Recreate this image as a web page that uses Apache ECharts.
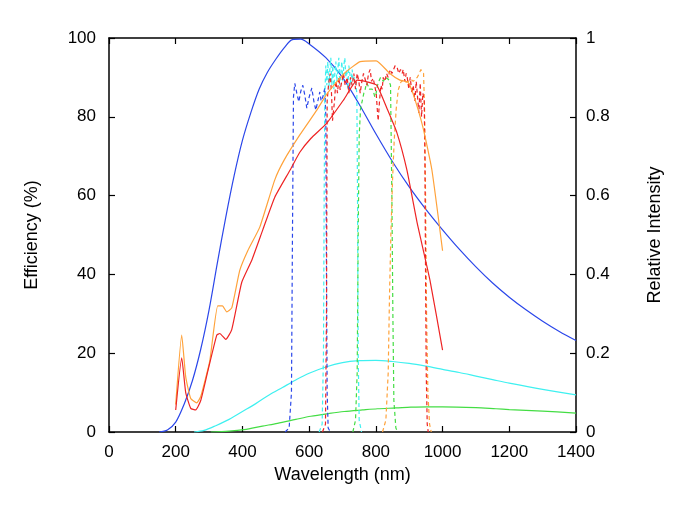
<!DOCTYPE html>
<html>
<head>
<meta charset="utf-8">
<script src="https://cdn.jsdelivr.net/npm/echarts@6/dist/echarts.min.js"></script>
<style>
  html, body { margin: 0; padding: 0; background: #fff; }
  #chart { width: 698px; height: 514px; }
</style>
</head>
<body>
<div id="chart"></div>
<script>
// Relative intensity curves (right axis), [nm, value]
const intensityBlue = [
  [150, 0], [175, 0.005], [200, 0.025], [225, 0.07], [250, 0.13], [275, 0.21], [300, 0.31],
  [325, 0.43], [350, 0.545], [375, 0.65], [400, 0.74], [425, 0.81], [450, 0.87], [475, 0.913],
  [500, 0.946], [525, 0.975], [550, 0.996], [575, 0.997], [600, 0.985], [650, 0.95],
  [700, 0.9], [750, 0.832], [800, 0.757], [850, 0.686], [900, 0.622], [950, 0.565],
  [1000, 0.513], [1050, 0.464], [1100, 0.419], [1150, 0.378], [1200, 0.342], [1250, 0.31],
  [1300, 0.281], [1350, 0.255], [1400, 0.232]
]
const intensityCyan = [
  [255, 0], [285, 0.004], [320, 0.016], [360, 0.032], [400, 0.052], [440, 0.072], [480, 0.094],
  [520, 0.113], [560, 0.132], [600, 0.149], [650, 0.165], [700, 0.176], [750, 0.181],
  [800, 0.182], [850, 0.179], [900, 0.174], [950, 0.167], [1000, 0.159], [1050, 0.151],
  [1100, 0.142], [1150, 0.133], [1200, 0.124], [1300, 0.108], [1400, 0.094]
]
const intensityGreen = [
  [305, 0], [360, 0.002], [405, 0.006], [460, 0.015], [505, 0.022], [560, 0.032], [605, 0.04],
  [660, 0.047], [705, 0.052], [760, 0.056], [805, 0.059], [860, 0.061], [905, 0.063],
  [955, 0.064], [1000, 0.064], [1100, 0.062], [1160, 0.059], [1200, 0.057], [1300, 0.053],
  [1400, 0.048]
]

// Detector efficiency curves (left axis, %)
const effOrange = [
  [200, 7], [218, 24.6], [230, 14], [245, 8.5], [263, 7.4], [275, 9], [302, 18], [326, 32],
  [340, 32], [353, 30.5], [368, 31.5], [392, 41], [416, 46], [452, 52], [497, 64], [525, 69],
  [572, 75.4], [623, 81.7], [655, 86], [705, 91], [753, 94], [801, 94.2], [842, 91],
  [872, 89.3], [896, 88.8], [911, 86], [941, 77.4], [968, 66.5], [1000, 46]
]
const effRed = [
  [200, 5.6], [218, 18.8], [230, 10], [245, 6], [260, 5.6], [275, 8], [295, 15], [323, 24.6],
  [332, 25], [350, 23.5], [368, 26], [398, 38], [428, 43.6], [461, 51.3], [497, 59.6],
  [543, 66.5], [572, 71], [605, 74.5], [653, 78.4], [705, 84.5], [744, 89.3], [776, 88.8],
  [803, 88], [834, 82], [863, 76], [893, 66.5], [924, 53], [962, 38.6], [1000, 20.8]
]

// Filter transmission curves (left axis, %)
const filterBlue = [
  [528, 0], [540, 1], [547, 10], [550, 50], [553, 85], [557, 88.5], [563, 86], [569, 83.8],
  [575, 86.5], [581, 88], [587, 85.5], [593, 82.2], [600, 85], [608, 87.3], [614, 84],
  [620, 81.7], [626, 84], [632, 86.3], [636, 84], [641, 85], [647, 87.3], [650, 80],
  [652, 40], [654, 10], [657, 1], [664, 0]
]
const filterCyan = [
  [630, 0], [639, 2], [643, 20], [645, 60], [647, 85], [650, 93], [653, 88], [656, 94],
  [659, 87], [662, 92], [665, 95], [668, 88], [671, 93], [674, 87], [677, 91], [680, 94],
  [683, 89], [686, 92], [689, 95], [692, 88], [695, 91], [698, 94], [701, 89], [704, 93],
  [707, 95], [710, 90], [713, 92], [716, 87], [719, 93], [722, 91], [725, 88], [729, 92],
  [732, 89], [736, 90], [740, 88], [743, 86], [745, 60], [747, 20], [750, 3], [757, 0]
]
const filterRed = [
  [640, 0], [649, 2], [652, 30], [654, 84], [658, 88], [663, 91], [667, 86], [670, 79],
  [673, 78.7], [676, 84], [680, 89], [685, 86], [689, 90], [693, 86.8], [698, 89], [703, 91],
  [708, 88], [714, 90], [719, 86], [724, 90], [729, 88], [734, 91], [739, 87], [744, 91],
  [749, 89], [753, 86], [758, 89], [763, 91], [768, 90.6], [773, 88], [778, 91], [783, 92],
  [787, 89], [792, 89.8], [797, 90], [801, 86], [805, 81], [807, 79], [811, 84], [815, 88],
  [819, 87], [822, 90], [827, 89], [832, 91], [837, 90], [843, 92], [848, 91], [853, 92],
  [858, 93], [864, 92.4], [869, 91], [874, 92], [879, 91], [882, 92], [887, 89], [891, 91],
  [894, 90], [899, 87], [903, 90], [908, 86], [912, 88], [917, 84], [921, 89], [924, 86],
  [929, 81], [933, 88.6], [937, 80], [941, 86], [945, 84], [947, 70], [949, 40], [951, 15],
  [954, 2], [957, 0]
]
const filterGreen = [
  [731, 0], [739, 3], [744, 15], [747, 50], [750, 75], [754, 82], [759, 84], [764, 86],
  [768, 87], [772, 88.6], [776, 88], [780, 87], [784, 86.5], [789, 87], [794, 86], [797, 85],
  [801, 86], [805, 88], [809, 89], [814, 90], [818, 90], [823, 89], [828, 90], [833, 90],
  [838, 89.5], [844, 88], [848, 60], [851, 30], [854, 8], [860, 1], [866, 0]
]
const filterOrange = [
  [820, 0], [830, 3], [837, 15], [841, 35], [845, 50], [850, 64], [855, 74], [861, 82],
  [867, 86.8], [875, 88.8], [882, 89.3], [890, 88.8], [898, 89], [905, 89.5], [912, 89],
  [918, 89.5], [924, 90], [930, 91], [935, 92], [940, 92], [943, 91], [946, 82], [949, 60],
  [952, 30], [956, 10], [961, 2], [966, 0]
]

const xRange = { min: 0, max: 1400, interval: 200 }
const leftRange = { min: 0, max: 100, interval: 20 }
const rightRange = { min: 0, max: 1, interval: 0.2 }

const FONT = "Liberation Sans"
const BLUE = "#2b47ea"
const CYAN = "#3ff0f0"
const GREEN = "#44dd44"
const RED = "#ee2424"
const ORANGE = "#ffa23a"

const axisLine = { show: true, onZero: false, lineStyle: { color: "#000", width: 1.5 } }
const tick = { show: true, inside: true, length: 6, lineStyle: { color: "#000", width: 1.2 } }
const label = { color: "#000", fontSize: 17, fontFamily: FONT, formatter: (v) => String(v) }
const nameStyle = { color: "#000", fontSize: 18, fontFamily: FONT }

function line(data, color, yIdx, dashed, smooth) {
  return {
    type: "line",
    data: data,
    yAxisIndex: yIdx,
    showSymbol: false,
    smooth: smooth || false,
    silent: true,
    lineStyle: { color: color, width: 1.2, type: dashed ? [4, 3] : "solid" },
  }
}

const chart = echarts.init(document.getElementById("chart"))
chart.setOption({
  animation: false,
  backgroundColor: "#fff",
  grid: { left: 109, right: 122, top: 38, bottom: 82 },
  xAxis: [
    {
      type: "value", position: "bottom", ...xRange,
      name: "Wavelength (nm)", nameLocation: "middle", nameGap: 34, nameTextStyle: nameStyle,
      axisLine: axisLine, axisTick: tick,
      axisLabel: { ...label, margin: 12 },
      splitLine: { show: false },
    },
    {
      type: "value", position: "top", ...xRange,
      axisLine: axisLine, axisTick: tick,
      axisLabel: { show: false },
      splitLine: { show: false },
    },
  ],
  yAxis: [
    {
      type: "value", position: "left", ...leftRange,
      name: "Efficiency (%)", nameLocation: "middle", nameGap: 68, nameTextStyle: nameStyle,
      axisLine: axisLine, axisTick: tick,
      axisLabel: { ...label, margin: 13 },
      splitLine: { show: false },
    },
    {
      type: "value", position: "right", ...rightRange,
      name: "Relative Intensity", nameLocation: "middle", nameGap: 70, nameTextStyle: nameStyle,
      axisLine: axisLine, axisTick: tick,
      axisLabel: { ...label, margin: 10 },
      splitLine: { show: false },
    },
  ],
  series: [
    line(intensityBlue, BLUE, 1, false, 0.3),
    line(intensityCyan, CYAN, 1, false, 0.3),
    line(intensityGreen, GREEN, 1, false, 0.3),
    line(filterBlue, BLUE, 0, true),
    line(filterCyan, CYAN, 0, true),
    line(filterGreen, GREEN, 0, true),
    line(filterOrange, ORANGE, 0, true),
    line(filterRed, RED, 0, true),
    line(effOrange, ORANGE, 0, false, 0.15),
    line(effRed, RED, 0, false, 0.15),
  ],
})
</script>
</body>
</html>
